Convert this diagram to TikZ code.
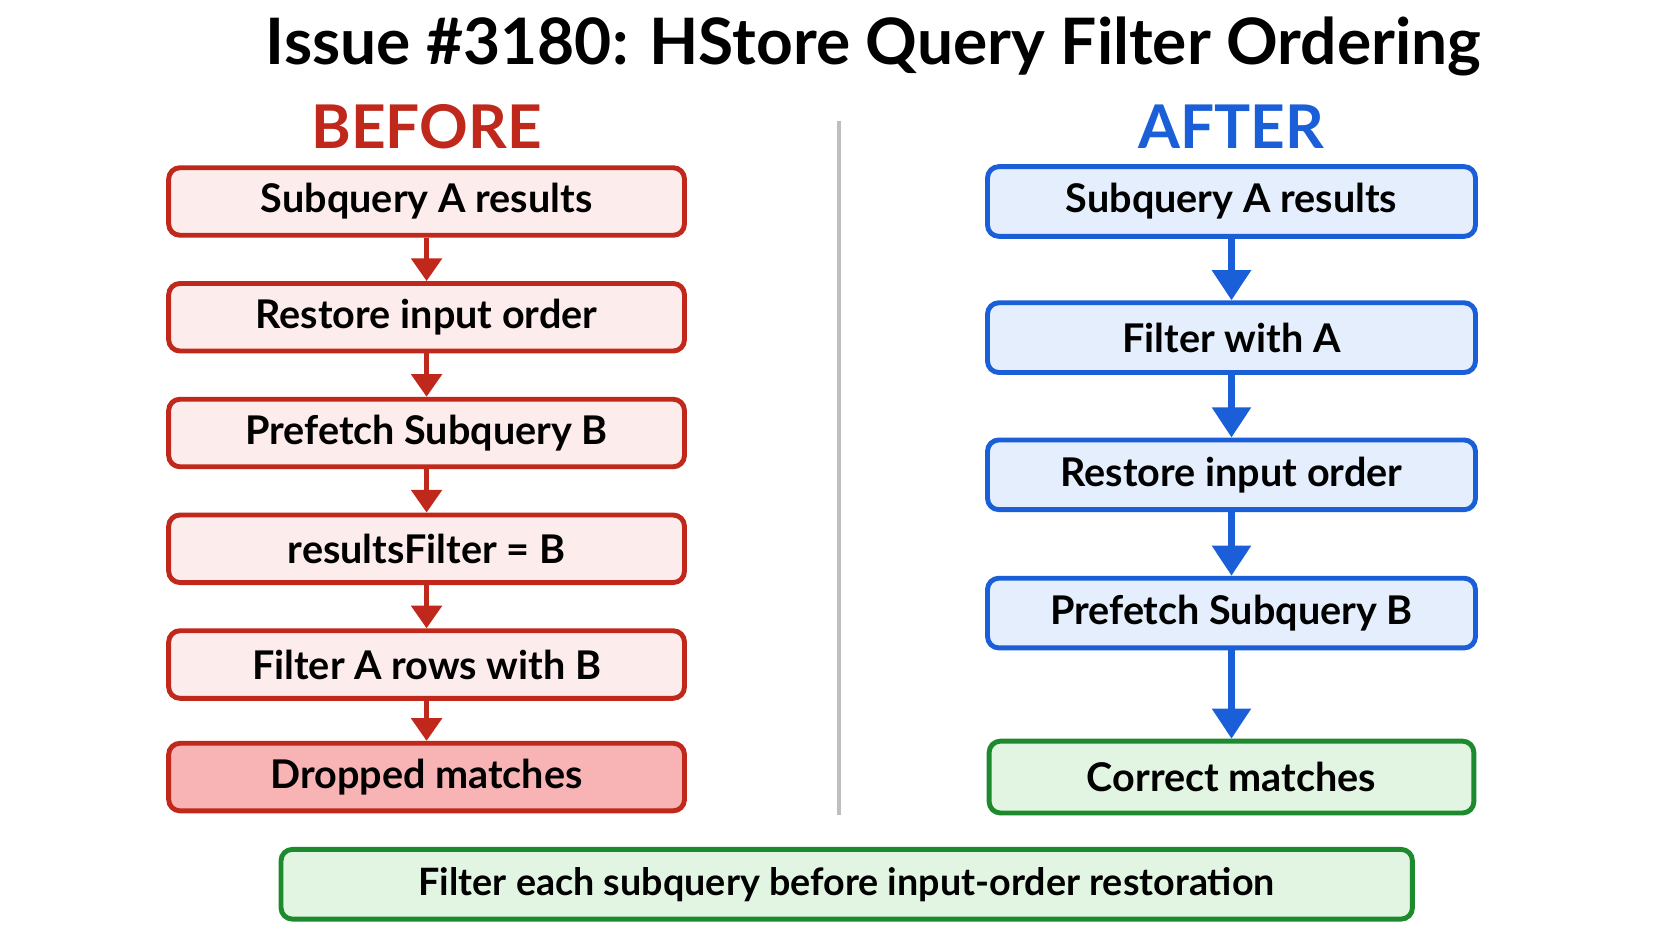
\documentclass[tikz,border=0pt]{standalone}
\usepackage{fontspec}
\setmainfont{Lato}
\usetikzlibrary{arrows.meta}
\definecolor{rd}{HTML}{C0281C}
\definecolor{rdf}{HTML}{FDECEC}
\definecolor{rdd}{HTML}{F8B4B4}
\definecolor{bl}{HTML}{1A5FD8}
\definecolor{blf}{HTML}{E4EEFC}
\definecolor{gn}{HTML}{1E8A2E}
\definecolor{gnf}{HTML}{E2F5E2}
\begin{document}
\begin{tikzpicture}[x=0.01cm,y=-0.01cm,
 box/.style={draw, line width=1.3pt, rounded corners=3pt, inner sep=0pt, font=\fontsize{10.5}{12}\selectfont\bfseries},
 lb/.style={box, draw=rd, fill=rdf, minimum width=481\pgflinewidth*0+4.81cm, minimum height=0.63cm},
 rb/.style={box, draw=bl, fill=blf, minimum width=4.55cm, minimum height=0.65cm},
 la/.style={draw=rd, line width=1.3pt, -{Triangle[length=6pt,width=8pt]}},
 ra/.style={draw=bl, line width=1.8pt, -{Triangle[length=8pt,width=10pt]}}]
\useasboundingbox (0,0) rectangle (1560,878);
\fill[white] (0,0) rectangle (1560,878);
\node[font=\fontsize{17}{20}\selectfont\bfseries] (title) at (815,43) {Issue \#3180: HStore Query Filter Ordering};
\node[font=\fontsize{16}{19}\selectfont\bfseries, text=rd] (bef) at (398,118) {BEFORE};
\node[font=\fontsize{16}{19}\selectfont\bfseries, text=bl] (aft) at (1149,118) {AFTER};
\draw[gray!50, line width=1pt] (783,113) coordinate (d1) -- (783,760) coordinate (d2);
\node[lb] (l1) at (398,188) {Subquery A results};
\node[lb] (l2) at (398,296) {Restore input order};
\node[lb] (l3) at (398,404) {Prefetch Subquery B};
\node[lb] (l4) at (398,512) {resultsFilter = B};
\node[lb] (l5) at (398,620) {Filter A rows with B};
\node[lb, fill=rdd] (l6) at (398,725) {Dropped matches};
\foreach \a/\b in {l1/l2,l2/l3,l3/l4,l4/l5,l5/l6} \draw[la] (\a) -- (\b);
\node[rb] (r1) at (1149,188) {Subquery A results};
\node[rb] (r2) at (1149,315) {Filter with A};
\node[rb] (r3) at (1149,443) {Restore input order};
\node[rb] (r4) at (1149,572) {Prefetch Subquery B};
\node[rb, draw=gn, fill=gnf, minimum width=4.52cm, minimum height=0.67cm] (r5) at (1149,725) {Correct matches};
\foreach \a/\b in {r1/r2,r2/r3,r3/r4,r4/r5} \draw[ra] (\a) -- (\b);
\node[box, draw=gn, fill=gnf, minimum width=10.55cm, minimum height=0.65cm, font=\fontsize{10}{12}\selectfont\bfseries] (note) at (790,825) {Filter each subquery before input-order restoration};
\end{tikzpicture}
\end{document}
